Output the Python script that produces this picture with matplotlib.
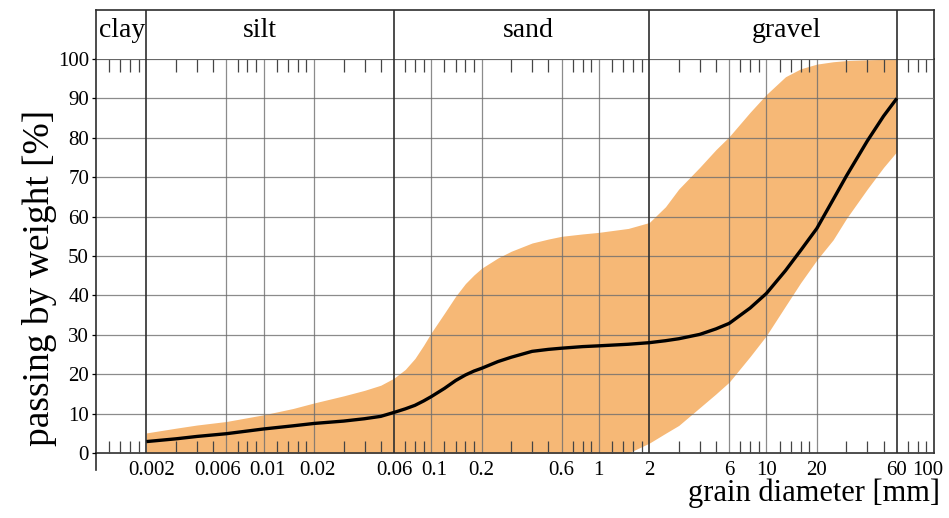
import numpy as np
import matplotlib.pyplot as plt
import matplotlib.transforms as mtransforms

plt.rcParams['font.family'] = ['Liberation Serif', 'DejaVu Serif']

# ---- data ----
# grain diameter [mm]
diam = [0.002, 0.003, 0.004, 0.006, 0.01, 0.015, 0.02, 0.03, 0.04, 0.05,
        0.06, 0.07, 0.08, 0.09, 0.1, 0.12, 0.14, 0.16, 0.18, 0.2,
        0.25, 0.3, 0.4, 0.5, 0.6, 0.8, 1, 1.5, 2, 2.5,
        3, 4, 5, 6, 8, 10, 13, 16, 20, 25,
        30, 40, 50, 60]
# upper envelope of the band [%]
upper = [5.1, 6.3, 7.1, 8.0, 9.7, 11.3, 12.7, 14.5, 15.9, 17.2,
         19.0, 21.2, 24.0, 27.3, 30.5, 35.5, 39.8, 43.0, 45.2, 46.9,
         49.5, 51.2, 53.3, 54.3, 55.0, 55.6, 56.0, 57.0, 58.5, 62.5,
         67.0, 72.5, 77.0, 80.3, 86.5, 91.0, 95.5, 97.5, 98.7, 99.3,
         99.6, 99.8, 99.9, 100.0]
# lower envelope of the band [%]
lower = [0, 0, 0, 0, 0, 0, 0, 0, 0, 0,
         0, 0, 0, 0, 0, 0, 0, 0, 0, 0,
         0, 0, 0, 0, 0, 0, 0, 0, 2.5, 5.0,
         7.0, 11.5, 15.0, 18.0, 24.5, 29.8, 37.3, 43.2, 49.0, 54.1,
         59.5, 67.0, 72.5, 76.5]
# mean grading curve [%]
median = [2.9, 3.6, 4.2, 4.9, 6.1, 6.9, 7.5, 8.1, 8.7, 9.3,
          10.3, 11.2, 12.1, 13.2, 14.3, 16.4, 18.4, 19.8, 20.8, 21.5,
          23.2, 24.3, 25.8, 26.3, 26.6, 27.0, 27.2, 27.6, 28.0, 28.5,
          29.0, 30.1, 31.5, 32.9, 36.8, 40.5, 46.3, 51.4, 57.0, 64.3,
          70.3, 79.2, 85.5, 90.0]

# labelled diameters on the x axis
xlabels_val = [0.002, 0.006, 0.01, 0.02, 0.06, 0.1, 0.2, 0.6, 1, 2, 6, 10, 20, 60, 100]
xlabels_txt = ["0.002", "0.006", "0.01", "0.02", "0.06", "0.1", "0.2", "0.6", "1",
               "2", "6", "10", "20", "60", "100"]
thin_grid = [0.006, 0.01, 0.02, 0.1, 0.2, 0.6, 1, 6, 10, 20]
class_bounds = [0.002, 0.06, 2, 60]
class_names = ["clay", "silt", "sand", "gravel"]
class_pos = [0.00143, 0.0095, 0.378, 13.1]

fill_col = "#F6B876"
grid_col = "#6e6e6e"
line_col = "#2e2e2e"

fig = plt.figure(figsize=(9.49, 5.18), dpi=100)
ax = fig.add_axes([96/949, 65/518, 838/949, 394/518])
axh = fig.add_axes([96/949, 459/518, 838/949, 49/518], sharex=ax)

ax.set_xscale("log")
ax.set_xlim(0.001, 100)
ax.set_ylim(0, 100)

# band and mean curve
ax.fill_between(diam, lower, upper, color=fill_col, lw=0, zorder=1)
ax.plot(diam, median, color="black", lw=2.4, zorder=4,
        solid_capstyle="butt", solid_joinstyle="round")

# grid
ax.set_yticks(range(0, 101, 10))
ax.grid(axis="y", color=grid_col, lw=0.9, alpha=0.8, zorder=2)
ax.vlines(thin_grid, 0, 100, color=grid_col, lw=0.9, alpha=0.8, zorder=2)
for b in class_bounds:
    ax.axvline(b, color=line_col, lw=1.2, zorder=3)
    axh.axvline(b, color=line_col, lw=1.2)
ax.set_axisbelow(False)

# ticks
minor_pos = [m * 10.0**e for e in range(-3, 2)
             for m in [1.2, 1.4, 1.6, 1.8, 3, 4, 5, 7, 8, 9]]
ax.set_xticks(xlabels_val, labels=xlabels_txt)
ax.set_xticks(minor_pos, minor=True)
ax.xaxis.set_minor_formatter(plt.NullFormatter())
ax.tick_params(axis="x", which="major", length=0, pad=6, labelsize=15)
ax.tick_params(axis="x", which="minor", direction="in", length=9, width=0.9,
               color="#444444", top=True, bottom=True)
ax.tick_params(axis="y", which="major", length=3, pad=2, labelsize=15, width=0.9)

# nudge a few crowded x labels the way the original does
label_shift = {"0.002": 5, "0.006": -9, "0.01": 4, "0.02": 3, "0.1": 3, "100": -6}
for lbl in ax.get_xticklabels():
    dx = label_shift.get(lbl.get_text(), 0)
    if dx:
        lbl.set_transform(lbl.get_transform() +
                          mtransforms.ScaledTranslation(dx / 100, 0, fig.dpi_scale_trans))

for s in ["left", "right", "top", "bottom"]:
    ax.spines[s].set_linewidth(1.2)
    ax.spines[s].set_color(line_col)
# left axis line runs a little below zero
ax.plot([0.001, 0.001], [0, -4.3], color=line_col, lw=1.2, clip_on=False)

ax.set_ylabel("passing by weight [%]", fontsize=27)
ax.yaxis.set_label_coords(-0.0465, 0.445)
ax.text(1.007, -0.122, "grain diameter [mm]", transform=ax.transAxes,
        ha="right", va="baseline", fontsize=22)

# soil class header
axh.set_ylim(0, 1)
axh.tick_params(left=False, bottom=False, labelleft=False, labelbottom=False,
                which="both", top=False)
axh.spines["bottom"].set_visible(False)
for s in ["left", "right", "top"]:
    axh.spines[s].set_linewidth(1.2)
    axh.spines[s].set_color(line_col)
for name, xp in zip(class_names, class_pos):
    axh.text(xp, 0.45, name, ha="center", va="baseline", fontsize=20)

fig.savefig("out.png", dpi=100)
